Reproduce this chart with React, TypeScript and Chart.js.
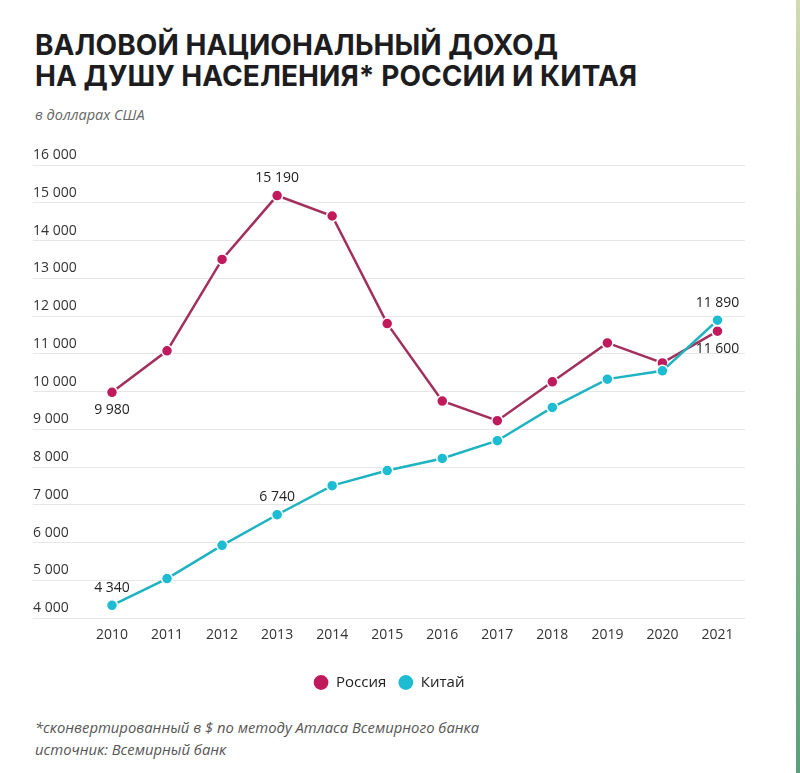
import React, { useEffect, useRef } from "react";
import { Chart, registerables } from "chart.js";

Chart.register(...registerables);

const years = [2010, 2011, 2012, 2013, 2014, 2015, 2016, 2017, 2018, 2019, 2020, 2021];
const russia = [9980, 11080, 13500, 15190, 14650, 11800, 9750, 9230, 10260, 11290, 10760, 11600];
const china = [4340, 5050, 5930, 6740, 7510, 7910, 8230, 8700, 9580, 10330, 10550, 11890];
const seriesNames = ["Россия", "Китай"];
const yTicks = [4000, 5000, 6000, 7000, 8000, 9000, 10000, 11000, 12000, 13000, 14000, 15000, 16000];

// which points carry a value label
const russiaLabeled = [0, 3, 11];
const chinaLabeled = [0, 3, 11];

const fmt = (v: number) => String(v).replace(/\B(?=(\d{3})+(?!\d))/g, " ");

const RU_LINE = "#a3305c";
const RU_POINT = "#c11a5c";
const CN_LINE = "#1db3c0";
const CN_POINT = "#1cbdd2";

const valueLabels = {
  id: "valueLabels",
  afterDatasetsDraw(chart: any) {
    const ctx = chart.ctx;
    ctx.save();
    ctx.font = "14px 'Open Sans'";
    ctx.fillStyle = "#222";
    ctx.textAlign = "center";
    ctx.textBaseline = "middle";
    const ruMeta = chart.getDatasetMeta(0);
    const cnMeta = chart.getDatasetMeta(1);
    const ruSide = [1, -1, 1];
    russiaLabeled.forEach((idx, k) => {
      const p = ruMeta.data[idx];
      ctx.fillText(fmt(russia[idx]), p.x, p.y + ruSide[k] * 18);
    });
    chinaLabeled.forEach((idx) => {
      const p = cnMeta.data[idx];
      ctx.fillText(fmt(china[idx]), p.x, p.y - 17.5);
    });
    ctx.restore();
  },
};

export default function App() {
  const ref = useRef<HTMLCanvasElement | null>(null);

  useEffect(() => {
    if (!ref.current) return;
    const chart = new Chart(ref.current, {
      type: "line",
      data: {
        datasets: [
          {
            label: seriesNames[0],
            data: years.map((x, i) => ({ x, y: russia[i] })),
            borderColor: RU_LINE,
            borderWidth: 2.5,
            pointBackgroundColor: RU_POINT,
            pointBorderColor: "#ffffff",
            pointBorderWidth: 1.5,
            pointRadius: 5.5,
            tension: 0,
            order: 1,
          },
          {
            label: seriesNames[1],
            data: years.map((x, i) => ({ x, y: china[i] })),
            borderColor: CN_LINE,
            borderWidth: 2.5,
            pointBackgroundColor: CN_POINT,
            pointBorderColor: "#ffffff",
            pointBorderWidth: 1.5,
            pointRadius: 5.5,
            tension: 0,
            order: 0,
          },
        ],
      },
      options: {
        animation: false,
        responsive: true,
        maintainAspectRatio: false,
        events: [],
        layout: { padding: { left: 33, right: 51, top: 45, bottom: 10 } },
        scales: {
          x: {
            type: "linear",
            min: years[0] - 1.435,
            max: years[years.length - 1] + 0.5,
            afterBuildTicks: (axis: any) => {
              axis.ticks = years.map((v) => ({ value: v }));
            },
            afterFit: (scale: any) => {
              scale.height += 20;
            },
            grid: { display: false },
            border: { display: false },
            ticks: {
              padding: 0,
              color: "#333",
              font: { size: 14, family: "'Open Sans'" },
              callback: (v: any) => String(v),
              maxRotation: 0,
              autoSkip: false,
            },
          },
          y: {
            type: "linear",
            min: yTicks[0],
            max: yTicks[yTicks.length - 1],
            afterBuildTicks: (axis: any) => {
              axis.ticks = yTicks.map((v) => ({ value: v }));
            },
            grid: { color: "#e6e6e6", lineWidth: 1, drawTicks: false },
            border: { display: false },
            ticks: {
              mirror: true,
              padding: 0,
              labelOffset: -10,
              color: "#333",
              font: { size: 14, family: "'Open Sans'" },
              callback: (v: any) => fmt(Number(v)),
            },
          },
        },
        plugins: {
          legend: {
            display: true,
            position: "bottom",
            labels: {
              usePointStyle: true,
              pointStyle: "circle",
              boxHeight: 11.5,
              padding: 12,
              color: "#222",
              font: { size: 15, family: "'Open Sans'" },
              sort: (a: any, b: any) => a.datasetIndex - b.datasetIndex,
            },
          },
          tooltip: { enabled: false },
          title: { display: false },
        },
      },
      plugins: [valueLabels],
    } as any);
    return () => chart.destroy();
  }, []);

  return (
    <div
      style={{
        position: "absolute",
        left: 0,
        top: 0,
        width: 800,
        height: 773,
        background: "#ffffff",
        overflow: "hidden",
        fontFamily: "'Open Sans', sans-serif",
      }}
    >
      <div
        style={{
          position: "absolute",
          left: 35,
          top: 30,
          fontFamily: "Inter, sans-serif",
          fontWeight: 700,
          fontSize: 28,
          lineHeight: "31px",
          color: "#1d1d1f",
          whiteSpace: "nowrap",
          letterSpacing: "0.05px",
        }}
      >
        <div>ВАЛОВОЙ НАЦИОНАЛЬНЫЙ ДОХОД</div>
        <div>НА ДУШУ НАСЕЛЕНИЯ* РОССИИ И КИТАЯ</div>
      </div>
      <div
        style={{
          position: "absolute",
          left: 35,
          top: 105,
          fontStyle: "italic",
          fontSize: 14.5,
          color: "#666",
        }}
      >
        в долларах США
      </div>
      <div style={{ position: "absolute", left: 0, top: 120, width: 796, height: 590 }}>
        <canvas ref={ref} />
      </div>
      <div
        style={{
          position: "absolute",
          left: 35,
          top: 717,
          fontStyle: "italic",
          fontSize: 14.8,
          lineHeight: "21.5px",
          color: "#555",
          whiteSpace: "nowrap",
        }}
      >
        <div>*сконвертированный в $ по методу Атласа Всемирного банка</div>
        <div>источник: Всемирный банк</div>
      </div>
      <div
        style={{
          position: "absolute",
          right: 0,
          top: 0,
          width: 4,
          height: 773,
          background: "linear-gradient(#d3dab0, #9cbf8e 40%, #5c9f7c)",
        }}
      />
    </div>
  );
}
